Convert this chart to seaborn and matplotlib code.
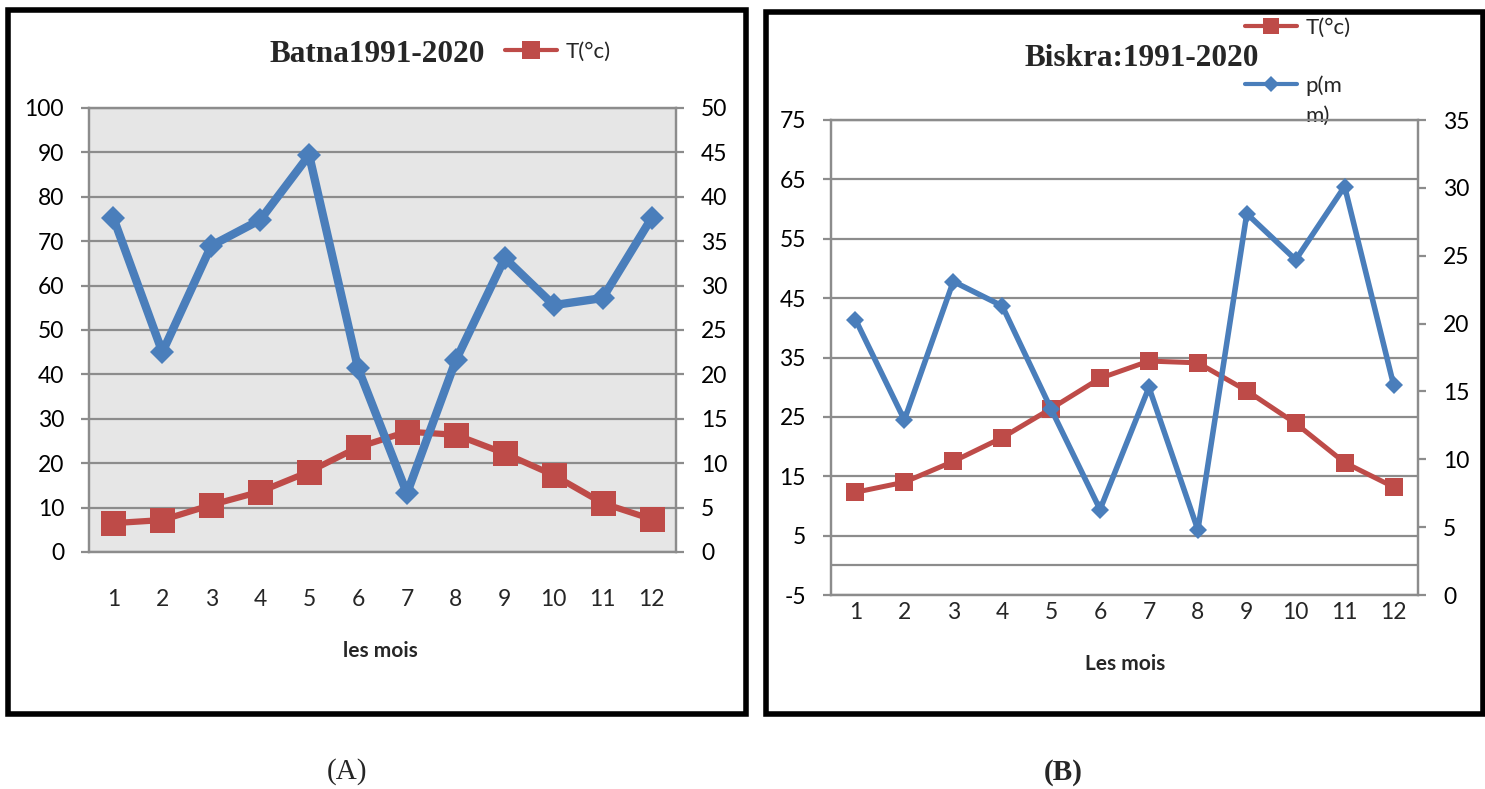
import matplotlib
matplotlib.use("Agg")
import numpy as np
import matplotlib.pyplot as plt
import seaborn as sns
from matplotlib.patches import Rectangle
from matplotlib.legend_handler import HandlerLine2D

# ---------------- data ----------------
months = list(range(1, 13))
month_labels = [str(m) for m in months]

batna_temp = [6.5, 7.2, 10.6, 13.6, 18.1, 23.6, 27.1, 26.4, 22.2, 17.3, 11.0, 7.4]
batna_precip = [37.6, 22.5, 34.5, 37.4, 44.7, 20.7, 6.6, 21.6, 33.1, 27.8, 28.6, 37.6]

biskra_temp = [12.3, 14.0, 17.5, 21.5, 26.4, 31.5, 34.4, 34.1, 29.4, 23.9, 17.3, 13.2]
biskra_precip = [20.3, 12.9, 23.1, 21.3, 13.7, 6.3, 15.3, 4.8, 28.1, 24.7, 30.1, 15.5]

batna_left_ticks = list(range(0, 101, 10))
batna_right_ticks = list(range(0, 51, 5))
biskra_left_ticks = list(range(-5, 76, 10))
biskra_right_ticks = list(range(0, 36, 5))

titles = ["Batna1991-2020", "Biskra:1991-2020"]
xlabels = ["les mois", "Les mois"]
temp_label = "T(°c)"
precip_label = "p(m\nm)"
panel_tags = ["(A)", "(B)"]

# ---------------- style ----------------
sns.set_theme(style="white")
plt.rcParams["font.family"] = ["Lato", "DejaVu Sans"]
plt.rcParams["axes.unicode_minus"] = False

BLUE = "#4A7EBB"
RED = "#BE4B48"
GRID = "#8C8C8C"
BG = "#E6E6E6"
SERIF = ["Liberation Serif", "DejaVu Serif"]
TICK_FS = 16.5

W, H = 1485, 789
fig = plt.figure(figsize=(W / 100, H / 100), dpi=100)


def fx(px):
    return px / W


def fy(py):
    return 1 - py / H


class RaisedHandler(HandlerLine2D):
    """Line handle drawn level with the first line of a two-line label."""

    def __init__(self, shift, **kw):
        super().__init__(**kw)
        self.shift = shift

    def create_artists(self, legend, orig_handle, xdescent, ydescent, width,
                       height, fontsize, trans):
        arts = super().create_artists(legend, orig_handle, xdescent, ydescent,
                                      width, height, fontsize, trans)
        for a in arts:
            a.set_ydata(np.asarray(a.get_ydata()) + self.shift)
        return arts


def style_axes(ax, axr, face):
    ax.set_facecolor(face)
    ax.set_axisbelow(True)
    ax.yaxis.grid(True, color=GRID, lw=1.6)
    ax.xaxis.grid(False)
    axr.grid(False)
    for a in (ax, axr):
        for s in a.spines.values():
            s.set_color(GRID)
            s.set_linewidth(1.6)
        a.set_xlabel("")
        a.set_ylabel("")
    ax.tick_params(axis="y", left=True, right=False, length=6, width=1.6,
                   color=GRID, pad=12, labelsize=TICK_FS, labelcolor="black")
    axr.tick_params(axis="y", right=True, left=False, length=6, width=1.6,
                    color=GRID, pad=12, labelsize=TICK_FS, labelcolor="black")


# ---------------- panel A: Batna ----------------
axA = fig.add_axes([fx(89), fy(552), fx(676) - fx(89), fy(108) - fy(552)])
sns.lineplot(x=months, y=batna_temp, ax=axA, color=RED, lw=4.5, marker="s",
             markersize=18, markeredgewidth=0, legend=False)
axAr = axA.twinx()
sns.lineplot(x=months, y=batna_precip, ax=axAr, color=BLUE, lw=6, marker="D",
             markersize=12.5, markeredgewidth=0, legend=False)
axA.set_xlim(0.5, 12.5)
axA.set_ylim(0, 100)
axAr.set_ylim(0, 50)
axA.set_yticks(batna_left_ticks)
axAr.set_yticks(batna_right_ticks)
axA.set_xticks(months, month_labels)
style_axes(axA, axAr, BG)
axA.tick_params(axis="x", length=0, pad=27, labelsize=TICK_FS)
axA.set_xlabel(xlabels[0], fontsize=15, fontweight="bold")
axA.xaxis.set_label_coords((380 - 89) / 587, -(641 - 552) / 444)

legA = axA.legend(handles=[axA.lines[0]], labels=[temp_label], loc="center left",
                  bbox_to_anchor=(fx(505), fy(52)), bbox_transform=fig.transFigure,
                  frameon=False, borderpad=0, borderaxespad=0, handlelength=2.35,
                  handletextpad=0.36, fontsize=16, markerscale=0.7)
for h in legA.legend_handles:
    h.set_linewidth(3)

fig.text(fx(377), fy(55), titles[0], family=SERIF, fontweight="bold",
         fontsize=22.5, ha="center", va="center")

# ---------------- panel B: Biskra ----------------
axB = fig.add_axes([fx(831), fy(595), fx(1418) - fx(831), fy(120) - fy(595)])
sns.lineplot(x=months, y=biskra_temp, ax=axB, color=RED, lw=3.6, marker="s",
             markersize=13.5, markeredgewidth=0, legend=False)
axBr = axB.twinx()
sns.lineplot(x=months, y=biskra_precip, ax=axBr, color=BLUE, lw=4, marker="D",
             markersize=9.5, markeredgewidth=0, legend=False)
axB.set_xlim(0.5, 12.5)
axB.set_ylim(-5, 75)
axBr.set_ylim(0, 35)
axB.set_yticks(biskra_left_ticks)
axBr.set_yticks(biskra_right_ticks)
axB.set_xticks(months, month_labels)
style_axes(axB, axBr, "white")
axB.axhline(0, color=GRID, lw=1.6, zorder=1)
axB.tick_params(axis="x", length=0, pad=5, labelsize=TICK_FS)
axB.set_xlabel(xlabels[1], fontsize=15, fontweight="bold")
axB.xaxis.set_label_coords((1125 - 831) / 587, -(654 - 595) / 475)

p_line = axBr.lines[0]
legB = axB.legend(handles=[axB.lines[0], p_line],
                  labels=[temp_label, precip_label], loc="upper left",
                  bbox_to_anchor=(fx(1245), fy(18)), bbox_transform=fig.transFigure,
                  frameon=False, borderpad=0, borderaxespad=0, handlelength=2.35,
                  handletextpad=0.36, fontsize=16, markerscale=0.9, labelspacing=1.68,
                  handler_map={p_line: RaisedHandler(shift=12)})
for t in legB.get_texts():
    t.set_linespacing(1.65)
for h in legB.legend_handles:
    h.set_linewidth(3)

fig.text(fx(1142), fy(58), titles[1], family=SERIF, fontweight="bold",
         fontsize=22.5, ha="center", va="center")

# ---------------- frames and tags ----------------
fig.add_artist(Rectangle((fx(8), fy(714)), fx(746) - fx(8), fy(10) - fy(714),
                         transform=fig.transFigure, fill=False, lw=4, ec="black", zorder=5))
fig.add_artist(Rectangle((fx(766), fy(714)), fx(1483) - fx(766), fy(12) - fy(714),
                         transform=fig.transFigure, fill=False, lw=4, ec="black", zorder=5))

fig.text(fx(347), fy(772), panel_tags[0], family=SERIF, fontsize=21,
         ha="center", va="center")
fig.text(fx(1063), fy(772), panel_tags[1], family=SERIF, fontsize=21,
         fontweight="bold", ha="center", va="center")

fig.savefig("out.png", dpi=100)
